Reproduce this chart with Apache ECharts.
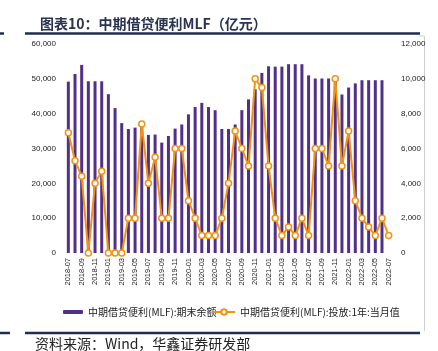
<!DOCTYPE html>
<html>
<head>
<meta charset="utf-8">
<script src="https://cdn.jsdelivr.net/npm/echarts@6/dist/echarts.min.js"></script>
<style>
html,body{margin:0;padding:0;background:#fff;}
#main{width:438px;height:351px;}
</style>
</head>
<body>
<div id="main"></div>
<script>
var months = ['2018-07','2018-08','2018-09','2018-10','2018-11','2018-12',
  '2019-01','2019-02','2019-03','2019-04','2019-05','2019-06','2019-07','2019-08','2019-09','2019-10','2019-11','2019-12',
  '2020-01','2020-02','2020-03','2020-04','2020-05','2020-06','2020-07','2020-08','2020-09','2020-10','2020-11','2020-12',
  '2021-01','2021-02','2021-03','2021-04','2021-05','2021-06','2021-07','2021-08','2021-09','2021-10','2021-11','2021-12',
  '2022-01','2022-02','2022-03','2022-04','2022-05','2022-06','2022-07'];

var balance = [49200,51400,54000,49300,49300,49300,
  45600,41600,37300,35600,36000,36800,33900,34000,31700,33600,35700,36900,
  39800,41900,43100,41900,41000,35600,35600,36900,41000,44100,47000,51700,
  53600,53500,53500,54200,54200,54200,51000,50100,50100,50100,50100,45500,
  47500,48700,49600,49600,49600,49600,null];

var injection = [6900,5300,4400,0,4000,4700,
  0,0,0,2000,2000,7400,4000,5500,2000,2000,6000,6000,
  3000,2000,1000,1000,1000,2000,4000,7000,6000,5000,10000,9500,
  5000,2000,1000,1500,1000,2000,1000,6000,6000,5000,10000,5000,
  7000,3000,2000,1500,1000,2000,1000];

var leftTicks = {min:0, max:60000, interval:10000};
var rightTicks = {min:0, max:12000, interval:2000};

var nameBar = '中期借贷便利(MLF):期末余额';
var nameLine = '中期借贷便利(MLF):投放:1年:当月值';
var titleText = '图表10：中期借贷便利MLF（亿元）';
var sourceText = '资料来源：Wind，华鑫证券研发部';

var chart = echarts.init(document.getElementById('main'), null, {renderer:'canvas'});
var navy = '#1f2d50';
var purple = '#52308a';
var orange = '#f39212';
var fontCJK = '"Noto Sans CJK SC", "Noto Sans", sans-serif';
var fontNum = 'Arial, "Liberation Sans", sans-serif';

chart.setOption({
  backgroundColor:'#fff',
  animation:false,
  title:{
    text:titleText, left:35, top:12,
    textStyle:{fontSize:14, fontWeight:'bold', color:'#2a3350', fontFamily:fontCJK}
  },
  graphic:[
    {type:'line', shape:{x1:25,y1:33.5,x2:420,y2:33.5}, style:{stroke:navy,lineWidth:2.5}},
    {type:'line', shape:{x1:0,y1:33.5,x2:4,y2:33.5}, style:{stroke:navy,lineWidth:2.5}},
    {type:'line', shape:{x1:25,y1:333,x2:420,y2:333}, style:{stroke:navy,lineWidth:2.5}},
    {type:'line', shape:{x1:0,y1:333,x2:10,y2:333}, style:{stroke:navy,lineWidth:2.5}},
    {type:'line', shape:{x1:419,y1:36,x2:424.5,y2:36}, style:{stroke:'#cfcfcf',lineWidth:1}},
    {type:'line', shape:{x1:424.5,y1:36,x2:424.5,y2:331}, style:{stroke:'#cfcfcf',lineWidth:1}},
    {type:'text', left:35, top:337, style:{text:sourceText, font:'14px ' + fontCJK, fill:'#222'}}
  ],
  legend:[
    {data:[nameBar], left:63, top:307, padding:0, itemWidth:20, itemHeight:4, itemGap:4,
     textStyle:{fontSize:10, color:'#222', fontFamily:fontCJK}},
    {data:[nameLine], left:212, top:307, padding:0, itemWidth:22, itemHeight:7, itemGap:4,
     textStyle:{fontSize:10, color:'#222', fontFamily:fontCJK}}
  ],
  grid:{left:65, right:46, top:44, bottom:98},
  xAxis:{
    type:'category', data:months, boundaryGap:true,
    axisLine:{show:false}, axisTick:{show:false},
    axisLabel:{rotate:90, interval:1, fontSize:7.5, color:'#222', margin:5, fontFamily:fontNum}
  },
  yAxis:[
    {type:'value', min:leftTicks.min, max:leftTicks.max, interval:leftTicks.interval,
     axisLine:{show:false}, axisTick:{show:false}, splitLine:{show:false},
     axisLabel:{fontSize:8, color:'#222', margin:9, fontFamily:fontNum}},
    {type:'value', min:rightTicks.min, max:rightTicks.max, interval:rightTicks.interval,
     axisLine:{show:false}, axisTick:{show:false}, splitLine:{show:false},
     axisLabel:{fontSize:8, color:'#222', margin:9, fontFamily:fontNum}}
  ],
  series:[
    {name:nameBar, type:'bar', data:balance, yAxisIndex:0, barWidth:3,
     itemStyle:{color:purple}},
    {name:nameLine, type:'line', data:injection, yAxisIndex:1,
     symbol:'circle', symbolSize:6, showSymbol:true, showAllSymbol:true,
     lineStyle:{color:orange, width:2},
     itemStyle:{color:'#fff', borderColor:orange, borderWidth:1.5}, z:3}
  ]
});
</script>
</body>
</html>
